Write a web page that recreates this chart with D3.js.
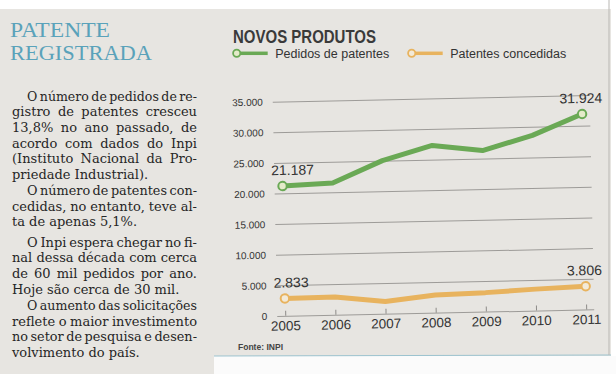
<!DOCTYPE html>
<html>
<head>
<meta charset="utf-8">
<script src="https://cdn.jsdelivr.net/npm/d3@7"></script>
<style>
  body { margin: 0; background: #fff; }
  svg { display: block; }
</style>
</head>
<body>
<div id="chart"></div>
<script>
// ---------------------------- DATA ----------------------------
const years = ["2005", "2006", "2007", "2008", "2009", "2010", "2011"];
const pedidos = [21187, 21500, 25000, 27300, 26300, 28600, 31924];
const concedidas = [2833, 2900, 2000, 2900, 3100, 3500, 3806];
const yTicks = [0, 5000, 10000, 15000, 20000, 25000, 30000, 35000];
const seriesNames = ["Pedidos de patentes", "Patentes concedidas"];

const paragraphs = [
  ["O número de pedidos de re-", "gistro de patentes cresceu", "13,8% no ano passado, de",
   "acordo com dados do Inpi", "(Instituto Nacional da Pro-", "priedade Industrial)."],
  ["O número de patentes con-", "cedidas, no entanto, teve al-", "ta de apenas 5,1%."],
  ["O Inpi espera chegar no fi-", "nal dessa década com cerca", "de 60 mil pedidos por ano.",
   "Hoje são cerca de 30 mil."],
  ["O aumento das solicitações", "reflete o maior investimento", "no setor de pesquisa e desen-",
   "volvimento do país."]
];
const paraStart = [100.7, 195, 246.7, 310];

// --------------------------- SETUP ----------------------------
const width = 616, height = 374;
const green = "#6aa955", orange = "#e8b35e";

const svg = d3.select("#chart").append("svg")
    .attr("width", width)
    .attr("height", height);

// paper
svg.append("rect").attr("x", 0).attr("y", 9).attr("width", 611).attr("height", 365).attr("fill", "#e7e5e1");
svg.append("rect").attr("x", 214).attr("y", 356).attr("width", 402).attr("height", 18).attr("fill", "#fbfbfb");
svg.append("line").attr("x1", 214).attr("x2", 611).attr("y1", 356).attr("y2", 355)
    .attr("stroke", "#9cc3cf").attr("stroke-width", 1);
svg.append("line").attr("x1", 609).attr("x2", 609).attr("y1", 0).attr("y2", 355)
    .attr("stroke", "#b9b7b3").attr("stroke-width", 1);

// --------------------------- LEFT TEXT ------------------------
const head = svg.append("g")
    .attr("font-family", "'Liberation Serif', serif")
    .attr("font-size", 21)
    .attr("fill", "#5aa2ba");
head.append("text").attr("x", 10).attr("y", 36.5)
    .attr("textLength", 100).attr("lengthAdjust", "spacingAndGlyphs").text("PATENTE");
head.append("text").attr("x", 10).attr("y", 60)
    .attr("textLength", 142).attr("lengthAdjust", "spacingAndGlyphs").text("REGISTRADA");

const body = svg.append("g")
    .attr("font-family", "'DejaVu Serif', serif")
    .attr("font-size", 13)
    .attr("fill", "#262626");

const left = 12, right = 197, indent = 27, lh = 15.6;
const probe2 = body.append("text").text("a a");
const probe1 = body.append("text").text("aa");
const sp = probe2.node().getComputedTextLength() - probe1.node().getComputedTextLength();
probe2.remove(); probe1.remove();

paragraphs.forEach(function(lines, p) {
  lines.forEach(function(line, i) {
    const y = paraStart[p] + i * lh;
    const x0 = i === 0 ? indent : left;
    const last = i === lines.length - 1;
    const words = line.split(" ");
    const nodes = words.map(w => body.append("text").attr("y", y).text(w));
    let widths = nodes.map(n => n.node().getComputedTextLength());
    let total = d3.sum(widths);
    let gap = sp;
    if (!last && words.length > 1) {
      gap = (right - x0 - total) / (words.length - 1);
      if (gap < 2.5) {
        // squeeze the words a little so the line still fits
        const k = (right - x0 - 2.5 * (words.length - 1)) / total;
        widths = widths.map(w => w * k);
        nodes.forEach((n, j) => n.attr("textLength", widths[j]).attr("lengthAdjust", "spacingAndGlyphs"));
        gap = 2.5;
      }
    }
    let x = x0;
    nodes.forEach(function(n, k) {
      n.attr("x", x);
      x += widths[k] + gap;
    });
  });
});

// --------------------------- CHART TITLE ----------------------
svg.append("text")
    .attr("x", 233).attr("y", 43.3)
    .attr("font-family", "'Liberation Sans Narrow', 'Liberation Sans', sans-serif")
    .attr("font-weight", "bold")
    .attr("font-size", 18)
    .attr("fill", "#3a3a3a")
    .attr("textLength", 143).attr("lengthAdjust", "spacingAndGlyphs")
    .text("NOVOS PRODUTOS");

// --------------------------- LEGEND ---------------------------
const legendX = [236.7, 411.7];
const legendColors = [green, orange];
const legendFill = ["#e4ebc9", "#f3ead8"];
const legend = svg.selectAll(".legend")
    .data(seriesNames)
    .enter().append("g")
    .attr("class", "legend")
    .attr("transform", (d, i) => "translate(" + legendX[i] + ",53.3)");
legend.append("line").attr("x1", 3).attr("x2", 31).attr("y1", 0).attr("y2", 0)
    .attr("stroke", (d, i) => legendColors[i]).attr("stroke-width", 3.5);
legend.append("circle").attr("r", 3.6)
    .attr("fill", (d, i) => legendFill[i])
    .attr("stroke", (d, i) => legendColors[i]).attr("stroke-width", 1.8);
legend.append("text")
    .attr("x", 38.5).attr("y", 4.3)
    .attr("font-family", "'Liberation Sans', sans-serif")
    .attr("font-size", 12.5)
    .attr("fill", "#333")
    .text(d => d);

// --------------------------- PLOT -----------------------------
// the scanned chart sits slightly tilted
const plot = svg.append("g").attr("transform", "rotate(-1.2,433,207)");

const xScale = d3.scalePoint().domain(years).range([283, 584]);
const yScale = d3.scaleLinear().domain([0, 35000]).range([312.7, 98.3]);
const fmt = d3.formatLocale({ decimal: ",", thousands: ".", grouping: [3], currency: ["", ""] }).format(",");

const yaxis = d3.axisLeft(yScale)
    .tickValues(yTicks)
    .tickSize(-(592 - 275))
    .tickPadding(10)
    .tickFormat(d => d === 0 ? "0" : fmt(d));

const gy = plot.append("g")
    .attr("transform", "translate(275,0)")
    .call(yaxis);
gy.select(".domain").remove();
gy.selectAll("line").attr("stroke", "#9d9b98").attr("stroke-width", 1);
gy.selectAll("text")
    .attr("font-family", "'Liberation Sans', sans-serif")
    .attr("font-size", 10)
    .attr("fill", "#333");

const xaxis = d3.axisBottom(xScale)
    .tickSize(-5)
    .tickSizeOuter(0)
    .tickPadding(5);
const gx = plot.append("g")
    .attr("transform", "translate(0," + yScale(0) + ")")
    .call(xaxis);
gx.select(".domain").remove();
gx.selectAll("line").attr("stroke", "#8d8b88");
gx.selectAll("text")
    .attr("font-family", "'Liberation Sans', sans-serif")
    .attr("font-size", 13.5)
    .attr("fill", "#333");

const line = d3.line()
    .x(d => xScale(d.year))
    .y(d => yScale(d.value));

const series = [
  { name: seriesNames[0], color: green, fill: legendFill[0], values: years.map((y, i) => ({ year: y, value: pedidos[i] })) },
  { name: seriesNames[1], color: orange, fill: legendFill[1], values: years.map((y, i) => ({ year: y, value: concedidas[i] })) }
];

series.forEach(function(s) {
  plot.append("path")
      .attr("d", line(s.values))
      .attr("fill", "none")
      .attr("stroke", s.color)
      .attr("stroke-width", 5)
      .attr("stroke-linejoin", "round");

  const ends = [s.values[0], s.values[s.values.length - 1]];
  plot.selectAll(null)
      .data(ends)
      .enter().append("circle")
      .attr("cx", d => xScale(d.year))
      .attr("cy", d => yScale(d.value))
      .attr("r", 4.2)
      .attr("fill", s.fill)
      .attr("stroke", s.color)
      .attr("stroke-width", 2);

  plot.selectAll(null)
      .data(ends)
      .enter().append("text")
      .attr("x", (d, i) => i === 0 ? xScale(d.year) - 11 : xScale(d.year) - 1)
      .attr("y", d => yScale(d.value) - 11)
      .attr("text-anchor", (d, i) => i === 0 ? "start" : "middle")
      .attr("font-family", "'Liberation Sans', sans-serif")
      .attr("font-size", 14)
      .attr("fill", "#333")
      .text(d => fmt(d.value));
});

// source
svg.append("text")
    .attr("x", 238).attr("y", 350)
    .attr("font-family", "'Liberation Sans Narrow', 'Liberation Sans', sans-serif")
    .attr("font-weight", "bold")
    .attr("font-size", 9.5)
    .attr("fill", "#444")
    .attr("textLength", 45).attr("lengthAdjust", "spacingAndGlyphs")
    .text("Fonte: INPI");
</script>
</body>
</html>
